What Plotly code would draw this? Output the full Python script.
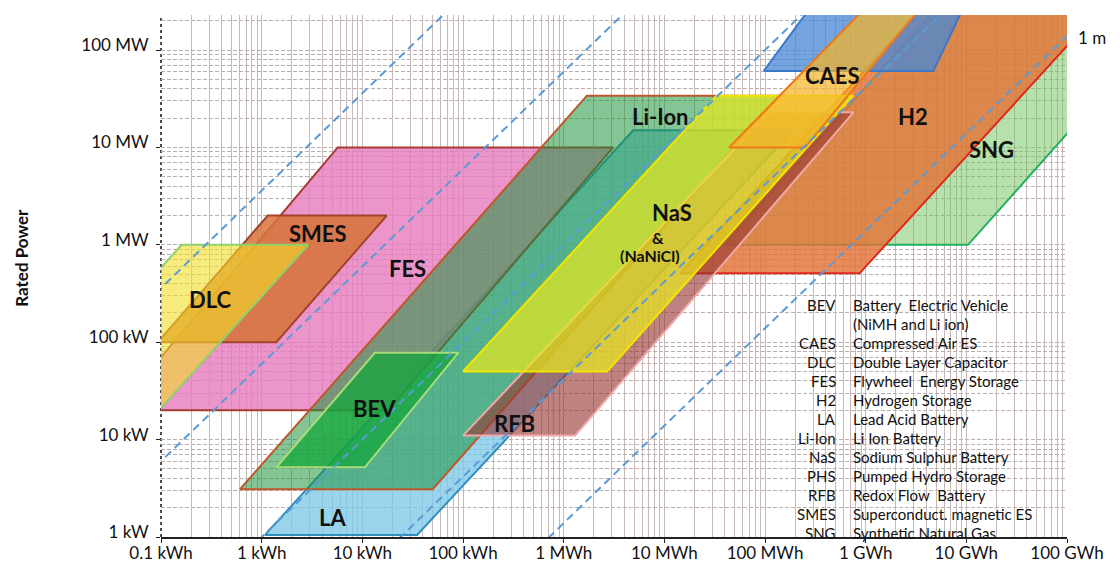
import math
import plotly.graph_objects as go

# ---------------- axis ticks ----------------
X_TICK_VALS = [0.1, 1, 10, 100, 1e3, 1e4, 1e5, 1e6, 1e7, 1e8]
X_TICK_TEXT = ["0.1 kWh", "1 kWh", "10 kWh", "100 kWh", "1 MWh", "10 MWh",
               "100 MWh", "1 GWh", "10 GWh", "100 GWh"]
Y_TICK_VALS = [1, 10, 100, 1e3, 1e4, 1e5]
Y_TICK_TEXT = ["1 kW", "10 kW", "100 kW", "1 MW", "10 MW", "100 MW"]

# ---------------- technology regions ----------------
# corner points: energy in kWh, rated power in kW
# (bottom-left, bottom-right, top-right, top-left)
SNG_E = [4.0e4, 1.04e7, 4.0e9, 1.55e7]
SNG_P = [1000, 1000, 1e6, 1e6]
H2_E = [1.43e4, 8.7e5, 7.0e8, 1.14e7]
H2_P = [510, 510, 1e6, 1e6]
PHS_E = [9.7e4, 4.7e6, 1.7e7, 7.1e5]
PHS_P = [6.1e4, 6.1e4, 1e6, 1e6]
LA_E = [1.08, 35, 1.9e5, 4.9e3]
LA_P = [1.05, 1.05, 1.5e4, 1.5e4]
FES_E = [0.036, 18, 3100, 5.7]
FES_P = [20, 20, 1e4, 1e4]
SMES_E = [0.093, 1.4, 17.5, 1.15]
SMES_P = [100, 100, 2000, 2000]
DLC_E = [0.003, 0.052, 2.9, 0.16]
DLC_P = [10, 10, 1000, 1000]
LIION_E = [0.61, 50, 1.4e5, 1700]
LIION_P = [3.1, 3.1, 3.4e4, 3.4e4]
RFB_E = [100, 1300, 7.6e5, 1.1e5]
RFB_P = [11, 11, 2.3e4, 2.3e4]
BEV_E = [1.4, 10.6, 90, 13.3]
BEV_P = [5.2, 5.2, 78, 78]
NAS_E = [100, 2700, 7.5e5, 3.3e4]
NAS_P = [50, 50, 3.4e4, 3.4e4]
CAES_E = [4.4e4, 2.5e5, 1.0e7, 3.4e6]
CAES_P = [1e4, 1e4, 1e6, 1e6]

# ---------------- discharge time lines (hours) ----------------
DISCHARGE_H = [1 / 3600, 1 / 60, 1, 24, 720]
LINE_E = [1e-3, 1e10]

# ---------------- legend text ----------------
LEG_ABBR = ["BEV", "", "CAES", "DLC", "FES", "H2", "LA", "Li-Ion", "NaS",
            "PHS", "RFB", "SMES", "SNG"]
LEG_DESC = ["Battery\u00a0 Electric Vehicle", "(NiMH and Li ion)",
            "Compressed Air ES", "Double Layer Capacitor",
            "Flywheel\u00a0 Energy Storage", "Hydrogen Storage",
            "Lead Acid Battery", "Li Ion Battery", "Sodium Sulphur Battery",
            "Pumped Hydro Storage", "Redox Flow\u00a0 Battery",
            "Superconduct. magnetic ES", "Synthetic Natural Gas"]

# ---------------- styles (drawing order) ----------------
REGIONS = [
    ("SNG", SNG_E, SNG_P, "rgba(110,195,90,0.5)", "#22b060"),
    ("H2", H2_E, H2_P, "rgba(228,115,55,0.82)", "#e0281c"),
    ("PHS", PHS_E, PHS_P, "rgba(70,135,215,0.75)", "#3c78c8"),
    ("LA", LA_E, LA_P, "rgba(125,200,232,0.78)", "#2f8fc0"),
    ("FES", FES_E, FES_P, "rgba(230,122,190,0.8)", "#a83a32"),
    ("SMES", SMES_E, SMES_P, "rgba(215,115,55,0.85)", "#a3432f"),
    ("DLC", DLC_E, DLC_P, "rgba(242,222,40,0.6)", "#8ed16a"),
    ("Li-Ion", LIION_E, LIION_P, "rgba(30,150,60,0.55)", "#c0562a"),
    ("RFB", RFB_E, RFB_P, "rgba(150,55,50,0.62)", "#f0a8a8"),
    ("BEV", BEV_E, BEV_P, "rgba(20,165,60,0.75)", "#a8dc78"),
    ("NaS", NAS_E, NAS_P, "rgba(232,232,30,0.72)", "#f2e600"),
    ("CAES", CAES_E, CAES_P, "rgba(245,180,40,0.72)", "#f07818"),
]

FONT = "Lato"

fig = go.Figure()

for name, ev, pv, fillc, linec in REGIONS:
    fig.add_trace(go.Scatter(
        x=ev + [ev[0]], y=pv + [pv[0]], mode="lines", fill="toself",
        fillcolor=fillc, line=dict(color=linec, width=2),
        hoverinfo="skip", showlegend=False, name=name))

for t in DISCHARGE_H:
    fig.add_trace(go.Scatter(
        x=LINE_E, y=[e / t for e in LINE_E], mode="lines",
        line=dict(color="#5b9bd5", width=2, dash="8px,5px"),
        hoverinfo="skip", showlegend=False))

L = math.log10


def lab(text, e, p, size=22, weight="bold"):
    fig.add_annotation(x=L(e), y=L(p), xref="x", yref="y", text=text,
                       showarrow=False, xanchor="center", yanchor="middle",
                       font=dict(family=FONT, size=size, color="#111",
                                 weight=weight))


lab("DLC", 0.307, 277)
lab("SMES", 3.62, 1322)
lab("FES", 28.4, 578)
lab("BEV", 13.3, 21)
lab("LA", 5.1, 1.59)
lab("RFB", 327, 14.7)
lab("Li-Ion", 9020, 20560)
lab("NaS", 11880, 2163)
lab("&", 8610, 1197, size=16)
lab("(NaNiCl)", 7180, 781, size=16)
lab("CAES", 4.71e5, 5.42e4)
lab("H2", 2.94e6, 2.1e4)
lab("SNG", 1.79e7, 9420)

fig.add_annotation(x=1.0276, y=0.956, xref="paper", yref="paper",
                   text="1 m", showarrow=False, xanchor="center",
                   yanchor="middle",
                   font=dict(family=FONT, size=17, color="#111"))

fig.add_annotation(x=-0.1534, y=0.535, xref="paper", yref="paper",
                   text="Rated Power", textangle=-90, showarrow=False,
                   xanchor="center", yanchor="middle",
                   font=dict(family=FONT, size=17, color="#111",
                             weight="bold"))

row0, step = 0.4444, 0.0364
for i, (a, d) in enumerate(zip(LEG_ABBR, LEG_DESC)):
    yp = row0 - i * step
    if a:
        fig.add_annotation(x=0.7472, y=yp, xref="paper", yref="paper",
                           text=a, showarrow=False, xanchor="right",
                           yanchor="middle",
                           font=dict(family=FONT, size=15, color="#111"))
    fig.add_annotation(x=0.7613, y=yp, xref="paper", yref="paper",
                       text=d, showarrow=False, xanchor="left",
                       yanchor="middle",
                       font=dict(family=FONT, size=15, color="#111"))

# dotted left axis line
fig.add_shape(type="line", xref="paper", yref="paper", x0=0, x1=0, y0=0,
              y1=1, line=dict(color="#111", width=1.5, dash="dot"),
              layer="below")

grid_v = "#c8b8b8"
grid_h = "#bbaeae"
fig.update_layout(
    width=1112, height=555,
    margin=dict(l=153, r=53, t=7, b=26, autoexpand=False),
    paper_bgcolor="white", plot_bgcolor="white",
    xaxis=dict(type="log", range=[-1, 8], tickmode="array",
               tickvals=X_TICK_VALS, ticktext=X_TICK_TEXT,
               ticks="outside", ticklen=4, tickcolor="#222",
               showline=True, linecolor="#222", linewidth=2,
               showgrid=True, gridcolor=grid_v, gridwidth=1,
               minor=dict(dtick="D1", showgrid=True, gridcolor=grid_v,
                          gridwidth=1, ticks=""),
               zeroline=False, automargin=False, ticklabelstandoff=-4,
               tickfont=dict(family=FONT, size=17, color="#111")),
    yaxis=dict(type="log", range=[0, 5.36], tickmode="array",
               tickvals=Y_TICK_VALS, ticktext=Y_TICK_TEXT,
               ticks="outside", ticklen=4, tickcolor="#222",
               showline=False,
               showgrid=True, gridcolor=grid_h, gridwidth=1,
               griddash="4px,2px",
               minor=dict(dtick="D1", showgrid=True, gridcolor=grid_h,
                          gridwidth=1, griddash="4px,2px", ticks=""),
               zeroline=False, ticklabelstandoff=4, ticklabelshift=-5,
               automargin=False,
               tickfont=dict(family=FONT, size=17, color="#111")),
)

fig.write_html("out.html")
